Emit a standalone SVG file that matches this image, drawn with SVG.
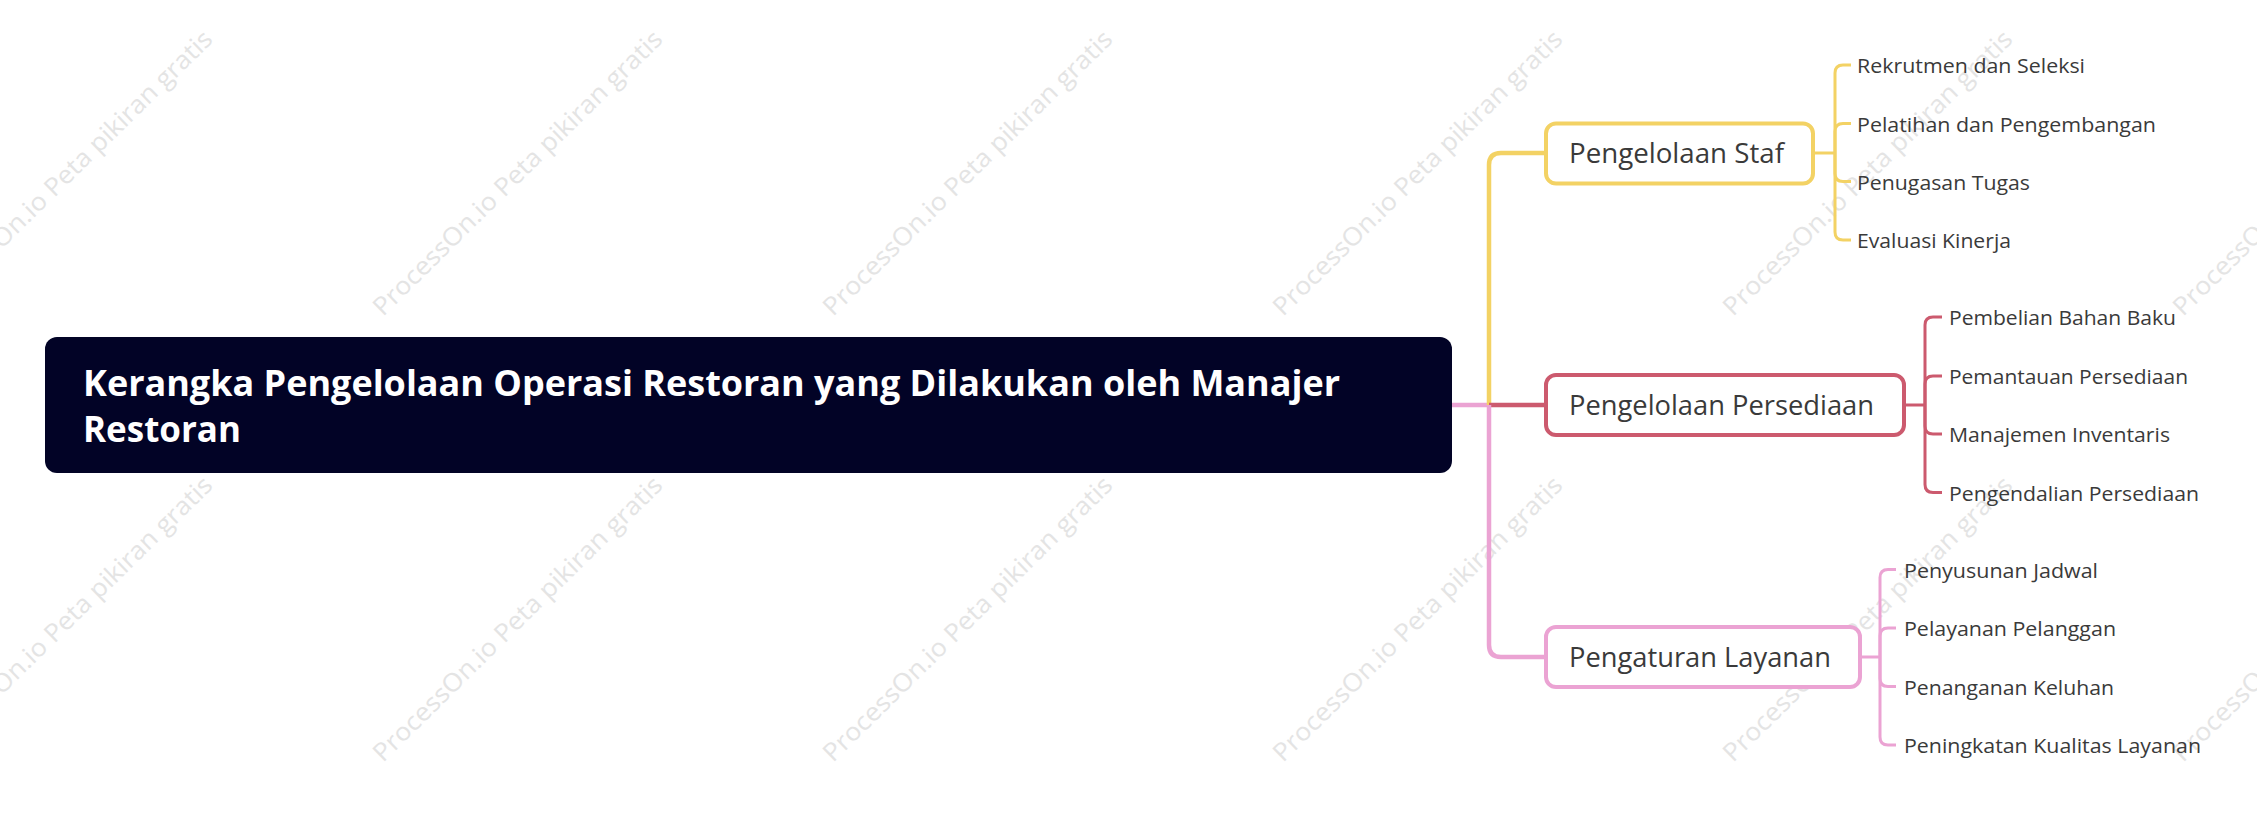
<svg xmlns="http://www.w3.org/2000/svg" width="2257" height="825" viewBox="0 0 2257 825">
<style>
.wm{font-family:"Open Sans","Noto Sans",sans-serif;font-size:25px;fill:#e4e4e4}
.root-box{fill:#020326}
.root-t{font-family:"Open Sans","Noto Sans",sans-serif;font-weight:bold;font-size:35px;fill:#ffffff}
.l1{fill:#ffffff;stroke-width:4}
.l1t{font-family:"Open Sans","Noto Sans",sans-serif;font-size:27px;fill:#3a3a3a}
.l2t{font-family:"Open Sans","Noto Sans",sans-serif;font-size:20.5px;fill:#3a3a3a}
.c{fill:none;stroke-linecap:butt;stroke-linejoin:round}
.main{stroke-width:4.5}
.sub{stroke-width:3}
.y{stroke:#f3d264}
.r{stroke:#cc5a6e}
.p{stroke:#eba3d3}
</style>
<rect width="2257" height="825" fill="#ffffff"/>
<g id="watermarks">
<text class="wm" transform="translate(-67,317) rotate(-44.5)" textLength="394" lengthAdjust="spacingAndGlyphs">ProcessOn.io Peta pikiran gratis</text>
<text class="wm" transform="translate(383,317) rotate(-44.5)" textLength="394" lengthAdjust="spacingAndGlyphs">ProcessOn.io Peta pikiran gratis</text>
<text class="wm" transform="translate(833,317) rotate(-44.5)" textLength="394" lengthAdjust="spacingAndGlyphs">ProcessOn.io Peta pikiran gratis</text>
<text class="wm" transform="translate(1283,317) rotate(-44.5)" textLength="394" lengthAdjust="spacingAndGlyphs">ProcessOn.io Peta pikiran gratis</text>
<text class="wm" transform="translate(1733,317) rotate(-44.5)" textLength="394" lengthAdjust="spacingAndGlyphs">ProcessOn.io Peta pikiran gratis</text>
<text class="wm" transform="translate(2183,317) rotate(-44.5)" textLength="394" lengthAdjust="spacingAndGlyphs">ProcessOn.io Peta pikiran gratis</text>
<text class="wm" transform="translate(-67,763) rotate(-44.5)" textLength="394" lengthAdjust="spacingAndGlyphs">ProcessOn.io Peta pikiran gratis</text>
<text class="wm" transform="translate(383,763) rotate(-44.5)" textLength="394" lengthAdjust="spacingAndGlyphs">ProcessOn.io Peta pikiran gratis</text>
<text class="wm" transform="translate(833,763) rotate(-44.5)" textLength="394" lengthAdjust="spacingAndGlyphs">ProcessOn.io Peta pikiran gratis</text>
<text class="wm" transform="translate(1283,763) rotate(-44.5)" textLength="394" lengthAdjust="spacingAndGlyphs">ProcessOn.io Peta pikiran gratis</text>
<text class="wm" transform="translate(1733,763) rotate(-44.5)" textLength="394" lengthAdjust="spacingAndGlyphs">ProcessOn.io Peta pikiran gratis</text>
<text class="wm" transform="translate(2183,763) rotate(-44.5)" textLength="394" lengthAdjust="spacingAndGlyphs">ProcessOn.io Peta pikiran gratis</text>
</g>
<g id="connectors">
<path class="c main p" d="M1450,405 H1489"/>
<path class="c main y" d="M1489,405 V165 Q1489,153 1501,153 H1546"/>
<path class="c main r" d="M1489,405 H1546"/>
<path class="c main p" d="M1489,405 V645 Q1489,657 1501,657 H1546"/>
<path class="c sub y" d="M1813,153 H1835"/>
<path class="c sub y" d="M1835,153 V73 Q1835,65 1843,65 H1851"/>
<path class="c sub y" d="M1835,153 V131.5 Q1835,123.5 1843,123.5 H1851"/>
<path class="c sub y" d="M1835,153 V173.5 Q1835,181.5 1843,181.5 H1851"/>
<path class="c sub y" d="M1835,153 V232 Q1835,240 1843,240 H1851"/>
<path class="c sub r" d="M1904,405 H1925"/>
<path class="c sub r" d="M1925,405 V325 Q1925,317 1933,317 H1942"/>
<path class="c sub r" d="M1925,405 V384 Q1925,376 1933,376 H1942"/>
<path class="c sub r" d="M1925,405 V426 Q1925,434 1933,434 H1942"/>
<path class="c sub r" d="M1925,405 V484.5 Q1925,492.5 1933,492.5 H1942"/>
<path class="c sub p" d="M1860,657 H1880"/>
<path class="c sub p" d="M1880,657 V577.5 Q1880,569.5 1888,569.5 H1896"/>
<path class="c sub p" d="M1880,657 V636 Q1880,628 1888,628 H1896"/>
<path class="c sub p" d="M1880,657 V678.5 Q1880,686.5 1888,686.5 H1896"/>
<path class="c sub p" d="M1880,657 V737 Q1880,745 1888,745 H1896"/>
</g>
<g id="root">
<rect class="root-box" x="45" y="337" width="1407" height="136" rx="12"/>
<text class="root-t" x="83" y="396" textLength="1257" lengthAdjust="spacingAndGlyphs">Kerangka Pengelolaan Operasi Restoran yang Dilakukan oleh Manajer</text>
<text class="root-t" x="83" y="442" textLength="158" lengthAdjust="spacingAndGlyphs">Restoran</text>
</g>
<g id="node-staf">
<rect class="l1 y" x="1546" y="123.5" width="267" height="60" rx="10"/>
<text class="l1t" x="1569" y="163" textLength="215" lengthAdjust="spacingAndGlyphs">Pengelolaan Staf</text>
</g>
<g id="node-persediaan">
<rect class="l1 r" x="1546" y="375" width="358" height="60" rx="10"/>
<text class="l1t" x="1569" y="415" textLength="305" lengthAdjust="spacingAndGlyphs">Pengelolaan Persediaan</text>
</g>
<g id="node-layanan">
<rect class="l1 p" x="1546" y="627" width="314" height="60" rx="10"/>
<text class="l1t" x="1569" y="667" textLength="262" lengthAdjust="spacingAndGlyphs">Pengaturan Layanan</text>
</g>
<g id="staf-children">
<text class="l2t" x="1857" y="73" textLength="228" lengthAdjust="spacingAndGlyphs">Rekrutmen dan Seleksi</text>
<text class="l2t" x="1857" y="131.5" textLength="299" lengthAdjust="spacingAndGlyphs">Pelatihan dan Pengembangan</text>
<text class="l2t" x="1857" y="189.5" textLength="173" lengthAdjust="spacingAndGlyphs">Penugasan Tugas</text>
<text class="l2t" x="1857" y="248" textLength="154" lengthAdjust="spacingAndGlyphs">Evaluasi Kinerja</text>
</g>
<g id="persediaan-children">
<text class="l2t" x="1949" y="325" textLength="227" lengthAdjust="spacingAndGlyphs">Pembelian Bahan Baku</text>
<text class="l2t" x="1949" y="384" textLength="239" lengthAdjust="spacingAndGlyphs">Pemantauan Persediaan</text>
<text class="l2t" x="1949" y="442" textLength="221" lengthAdjust="spacingAndGlyphs">Manajemen Inventaris</text>
<text class="l2t" x="1949" y="500.5" textLength="250" lengthAdjust="spacingAndGlyphs">Pengendalian Persediaan</text>
</g>
<g id="layanan-children">
<text class="l2t" x="1904" y="577.5" textLength="194" lengthAdjust="spacingAndGlyphs">Penyusunan Jadwal</text>
<text class="l2t" x="1904" y="636" textLength="212" lengthAdjust="spacingAndGlyphs">Pelayanan Pelanggan</text>
<text class="l2t" x="1904" y="694.5" textLength="210" lengthAdjust="spacingAndGlyphs">Penanganan Keluhan</text>
<text class="l2t" x="1904" y="753" textLength="297" lengthAdjust="spacingAndGlyphs">Peningkatan Kualitas Layanan</text>
</g>
</svg>
